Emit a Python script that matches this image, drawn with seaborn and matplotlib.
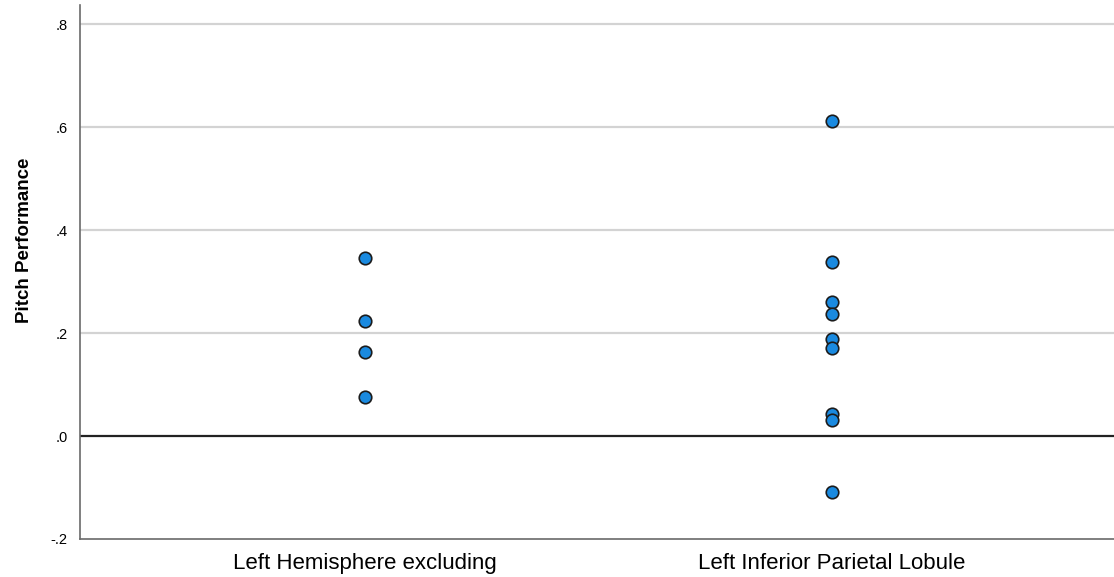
import matplotlib
matplotlib.use("Agg")
import matplotlib.pyplot as plt
import seaborn as sns
import pandas as pd

regions = ["Left Hemisphere excluding", "Left Inferior Parietal Lobule"]
left_hemisphere = [0.346, 0.223, 0.163, 0.076]
left_ipl = [0.612, 0.337, 0.261, 0.237, 0.188, 0.170, 0.043, 0.031, -0.108]
y_ticks = [-0.2, 0.0, 0.2, 0.4, 0.6, 0.8]
y_tick_labels = ["-.2", ".0", ".2", ".4", ".6", ".8"]

df = pd.DataFrame({
    "Region": [regions[0]] * len(left_hemisphere) + [regions[1]] * len(left_ipl),
    "Pitch Performance": left_hemisphere + left_ipl,
})

sns.set_style("white")
plt.rcParams["font.family"] = ["Liberation Sans", "DejaVu Sans"]
plt.rcParams["text.color"] = "black"
plt.rcParams["xtick.color"] = "black"
plt.rcParams["ytick.color"] = "black"
plt.rcParams["axes.labelcolor"] = "black"

fig = plt.figure(figsize=(11.14, 5.77), dpi=100)
ax = fig.add_axes([80 / 1114, 1 - 539 / 577, 1034 / 1114, 534 / 577])

for t in y_ticks[2:]:
    ax.axhline(t, color="#d3d3d3", lw=1.6, zorder=0)
ax.axhline(0, color="#222222", lw=1.6, zorder=1)

sns.stripplot(data=df, x="Region", y="Pitch Performance", order=regions,
              jitter=False, size=9, color="#1a8ae0", edgecolor="#1c1c1c",
              linewidth=1.2, ax=ax, zorder=3)

ax.set_xlim(-0.61, 1.604)
ax.set_ylim(-0.2, 0.837)
ax.set_yticks(y_ticks)
ax.set_yticklabels(y_tick_labels, fontsize=10.5)
ax.tick_params(axis="x", labelsize=16, length=0, pad=10)
ax.tick_params(axis="y", length=0, pad=9)
ax.set_xlabel("")
ax.set_ylabel("Pitch Performance", fontsize=13.5, fontweight="bold")
ax.yaxis.set_label_coords(-0.045, 0.56)

for s in ["top", "right"]:
    ax.spines[s].set_visible(False)
ax.spines["left"].set_color("#6a6a6a")
ax.spines["bottom"].set_color("#6a6a6a")
ax.spines["left"].set_linewidth(1.2)
ax.spines["bottom"].set_linewidth(1.2)

fig.savefig("out.png", dpi=100)
